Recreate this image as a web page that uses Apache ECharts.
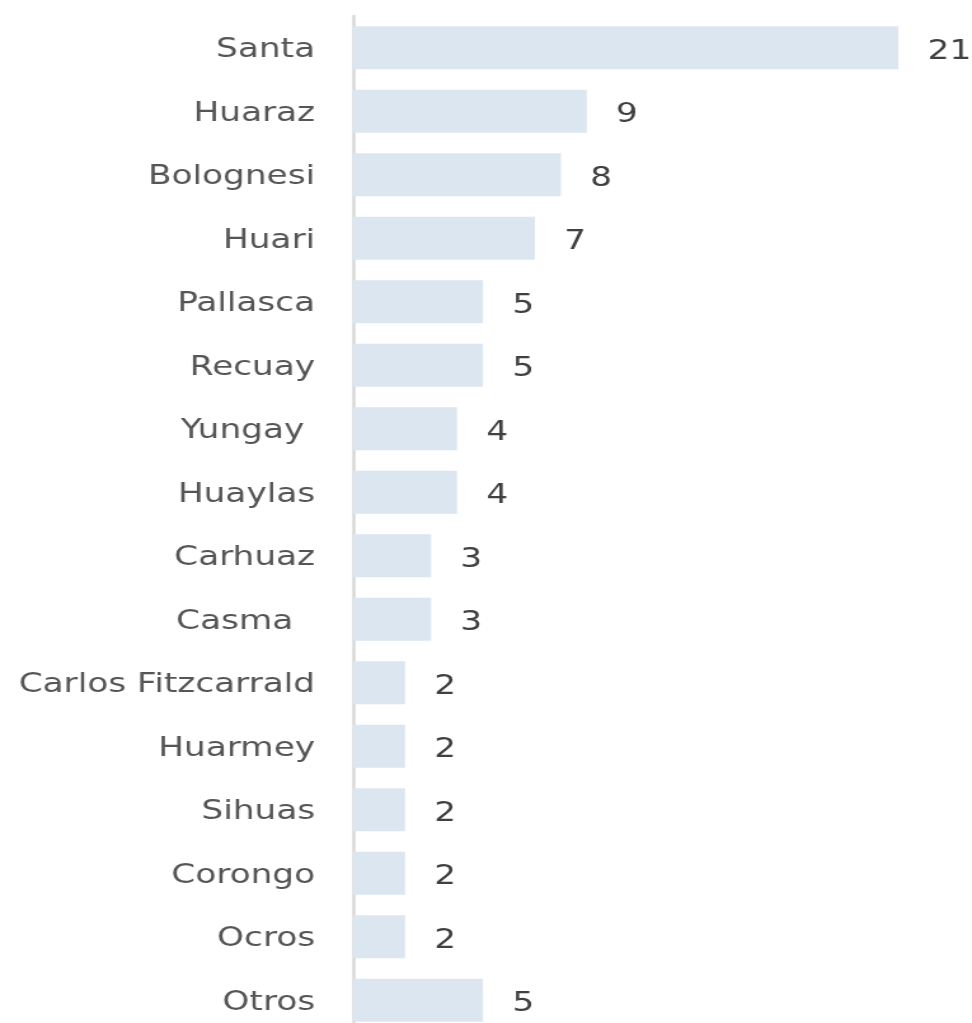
<!DOCTYPE html>
<html>
<head>
<meta charset="utf-8">
<script src="https://cdn.jsdelivr.net/npm/echarts@6/dist/echarts.min.js"></script>
<style>
  html, body { margin: 0; padding: 0; background: #fff; overflow: hidden; }
  /* la imagen original está estirada en horizontal: se dibuja más angosta y se escala */
  #chart { width: 765px; height: 1023px; transform: scaleX(1.2706); transform-origin: 0 0; }
</style>
</head>
<body>
<div id="chart"></div>
<script>
// provincias (de arriba hacia abajo)
const provincias = ['Santa', 'Huaraz', 'Bolognesi', 'Huari', 'Pallasca', 'Recuay', 'Yungay ', 'Huaylas',
  'Carhuaz', 'Casma  ', 'Carlos Fitzcarrald', 'Huarmey', 'Sihuas', 'Corongo', 'Ocros', 'Otros'];
// cantidad por provincia
const cantidades = [21, 9, 8, 7, 5, 5, 4, 4, 3, 3, 2, 2, 2, 2, 2, 5];

const myChart = echarts.init(document.getElementById('chart'));

const option = {
  animation: false,
  grid: { left: 278, width: 429, top: 16, height: 1016, outerBoundsMode: 'none' },
  xAxis: {
    type: 'value',
    min: 0,
    max: 21,
    show: false,
    splitLine: { show: false }
  },
  yAxis: {
    type: 'category',
    data: provincias,
    inverse: true,
    axisTick: { show: false },
    axisLine: { show: true, lineStyle: { color: '#d9d9d9', width: 2.5 } },
    axisLabel: {
      margin: 30,
      formatter: function (v) { return '{p|' + v + '}'; },
      rich: {
        p: {
          color: '#555555',
          fontFamily: 'DejaVu Sans',
          fontSize: 27,
          padding: [5, 0, 0, 0]
        }
      }
    }
  },
  series: [{
    type: 'bar',
    data: cantidades,
    barCategoryGap: '32%',
    itemStyle: { color: '#dce6f1' },
    label: {
      show: true,
      position: 'right',
      distance: 23,
      offset: [0, 4],
      color: '#404040',
      fontFamily: 'DejaVu Sans',
      fontSize: 27
    }
  }]
};

myChart.setOption(option, true);
</script>
</body>
</html>
